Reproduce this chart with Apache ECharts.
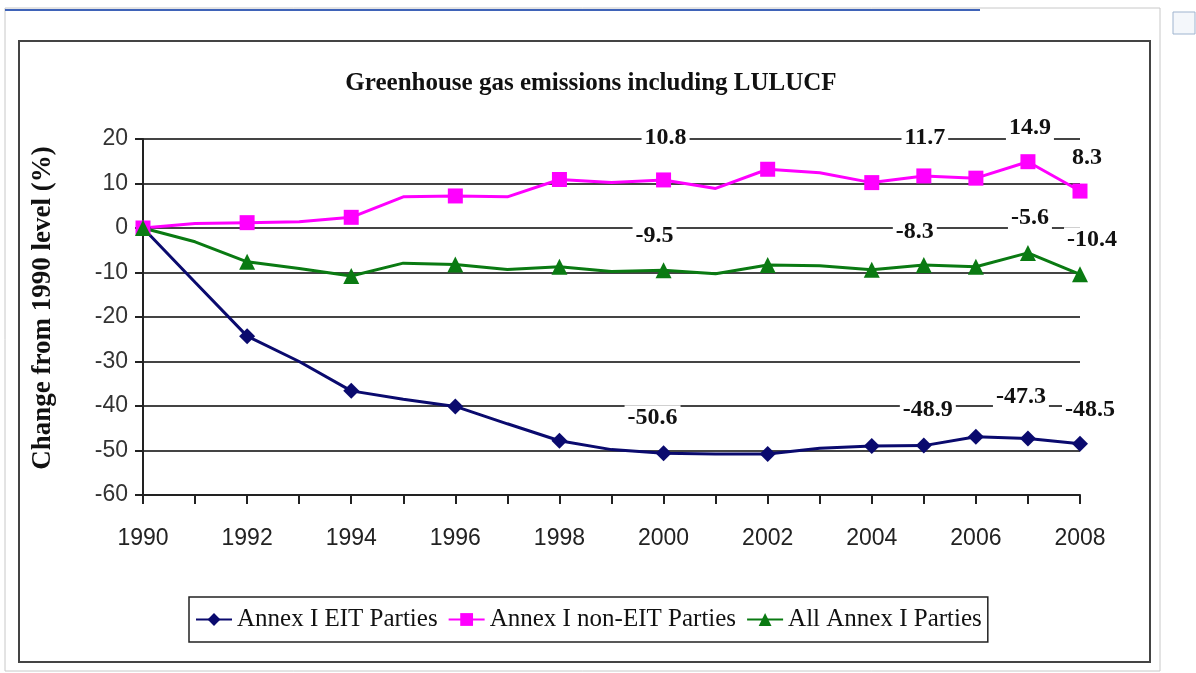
<!DOCTYPE html>
<html>
<head>
<meta charset="utf-8">
<script src="https://cdn.jsdelivr.net/npm/echarts@6/dist/echarts.min.js"></script>
<style>
  html, body { margin: 0; padding: 0; background: #fff; }
  #chart { width: 1196px; height: 673px; }
</style>
</head>
<body>
<div id="chart"></div>
<script>
// years on the x axis (every year has a vertex, markers only on some)
const years = [1990, 1991, 1992, 1993, 1994, 1995, 1996, 1997, 1998, 1999,
               2000, 2001, 2002, 2003, 2004, 2005, 2006, 2007, 2008];
const markedYears = [1990, 1992, 1994, 1996, 1998, 2000, 2002, 2004, 2005, 2006, 2007, 2008];
const labelledYears = [2000, 2005, 2007, 2008];

const eitValues = [0, -12.2, -24.3, -30.0, -36.6, -38.5, -40.1, -44.0, -47.8, -49.8,
                   -50.6, -50.8, -50.8, -49.5, -49.0, -48.9, -46.9, -47.3, -48.5];
const nonEitValues = [0, 1.0, 1.2, 1.4, 2.4, 7.0, 7.2, 7.0, 10.9, 10.2,
                      10.8, 8.9, 13.2, 12.4, 10.2, 11.7, 11.2, 14.9, 8.3];
const allValues = [0, -3.1, -7.6, -9.1, -10.8, -7.9, -8.2, -9.3, -8.7, -9.8,
                   -9.5, -10.3, -8.3, -8.5, -9.4, -8.3, -8.7, -5.6, -10.4];

const seriesNames = ['Annex I EIT Parties', 'Annex I non-EIT Parties', 'All Annex I Parties'];
const yTicks = [-60, -50, -40, -30, -20, -10, 0, 10, 20];

// label offsets (px) for the labelled years, per series
const labelOffsets = {
  eit:    [[-11, -35], [4, -36], [-7, -42], [10, -34]],
  nonEit: [[2, -42], [1, -38], [2, -34], [7, -33]],
  all:    [[-9, -34], [-9, -33], [2, -35], [12, -34]]
};

const serif = 'Liberation Serif';
const sans = 'Liberation Sans';

function buildData(values, offsets) {
  return years.map((y, i) => {
    const item = { value: [y, values[i]] };
    if (markedYears.indexOf(y) < 0) item.symbol = 'none';
    const li = labelledYears.indexOf(y);
    if (li >= 0) {
      item.label = {
        show: true,
        position: 'inside',
        offset: offsets[li],
        formatter: (p) => p.value[1].toFixed(1),
        fontFamily: serif,
        fontWeight: 'bold',
        fontSize: 24,
        color: '#111',
        backgroundColor: '#fff',
        padding: [1, 3]
      };
    }
    return item;
  });
}

function lineSeries(name, values, offsets, color, symbol, size) {
  return {
    name: name,
    type: 'line',
    data: buildData(values, offsets),
    symbol: symbol,
    symbolSize: size,
    showAllSymbol: true,
    lineStyle: { color: color, width: 3 },
    itemStyle: { color: color },
    label: { show: false },
    emphasis: { disabled: true },
    animation: false,
    z: 3
  };
}

const chart = echarts.init(document.getElementById('chart'));
chart.setOption({
  backgroundColor: '#fff',
  animation: false,
  title: {
    text: 'Greenhouse gas emissions including LULUCF',
    left: 586,
    textAlign: 'center',
    top: 66,
    textStyle: { fontFamily: serif, fontWeight: 'bold', fontSize: 25, color: '#111' }
  },
  graphic: [
    { type: 'rect', shape: { x: 5, y: 8, width: 1155, height: 663 },
      style: { fill: 'none', stroke: '#c8c8c8', lineWidth: 1 }, z: 0 },
    { type: 'line', shape: { x1: 5, y1: 10, x2: 980, y2: 10 },
      style: { stroke: '#3f63b8', lineWidth: 2 }, z: 1 },
    { type: 'rect', shape: { x: 19, y: 41, width: 1131, height: 621 },
      style: { fill: 'none', stroke: '#444', lineWidth: 2 }, z: 1 },
    { type: 'rect', shape: { x: 1173, y: 12, width: 22, height: 22 },
      style: { fill: '#f4f7fb', stroke: '#9fb4cf', lineWidth: 1 }, z: 1 }
  ],
  legend: {
    left: 189,
    top: 597,
    width: 840,
    data: seriesNames,
    itemWidth: 36,
    itemHeight: 16,
    itemGap: 10,
    padding: [10, 6],
    borderColor: '#222',
    borderWidth: 1.5,
    textStyle: { fontFamily: serif, fontSize: 25, color: '#111' }
  },
  grid: { left: 143, right: 116, top: 139, bottom: 178, containLabel: false },
  xAxis: {
    type: 'value',
    min: 1990,
    max: 2008,
    interval: 1,
    axisLine: { onZero: false, lineStyle: { color: '#222', width: 2 } },
    axisTick: { show: true, length: 9, lineStyle: { color: '#222', width: 2 } },
    axisLabel: {
      margin: 32,
      fontFamily: sans,
      fontSize: 23,
      color: '#222',
      formatter: (v) => (v % 2 === 0 ? String(v) : '')
    },
    splitLine: { show: false }
  },
  yAxis: {
    type: 'value',
    min: yTicks[0],
    max: yTicks[yTicks.length - 1],
    interval: 10,
    name: 'Change from 1990 level (%)',
    nameLocation: 'middle',
    nameGap: 86,
    nameTextStyle: { fontFamily: serif, fontWeight: 'bold', fontSize: 27, color: '#111', padding: [0, 0, 0, 18] },
    axisLine: { show: true, lineStyle: { color: '#222', width: 2 } },
    axisTick: { show: true, length: 8, lineStyle: { color: '#222', width: 2 } },
    axisLabel: { margin: 15, fontFamily: sans, fontSize: 23, color: '#333' },
    splitLine: { show: true, lineStyle: { color: '#444', width: 2 } }
  },
  series: [
    lineSeries(seriesNames[0], eitValues, labelOffsets.eit, '#0a0a6e', 'diamond', 16),
    lineSeries(seriesNames[1], nonEitValues, labelOffsets.nonEit, '#ff00ff', 'rect', 15),
    lineSeries(seriesNames[2], allValues, labelOffsets.all, '#0a7a12', 'triangle', 16)
  ]
});
</script>
</body>
</html>
